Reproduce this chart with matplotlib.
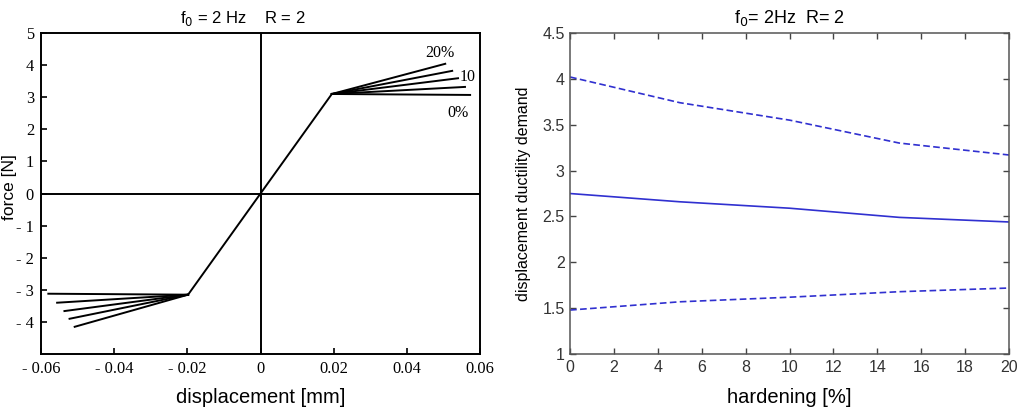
import matplotlib
matplotlib.use('Agg')
import matplotlib.pyplot as plt

# left panel: bilinear force-displacement with hardening branches
yield_disp = [-0.0198, 0.0195]
yield_force = [-3.15, 3.1]
hard_levels = ['0%', '5%', '10%', '15%', '20%']
pos_end_disp = [0.0573, 0.0559, 0.054, 0.0524, 0.0505]
pos_end_force = [3.07, 3.32, 3.59, 3.82, 4.04]
neg_end_disp = [-0.058, -0.0556, -0.0536, -0.0522, -0.0508]
neg_end_force = [-3.12, -3.40, -3.66, -3.90, -4.15]

# right panel: ductility demand vs hardening
hardening = [0, 5, 10, 15, 20]
duct_upper = [4.02, 3.74, 3.55, 3.30, 3.17]
duct_mean = [2.75, 2.66, 2.59, 2.49, 2.44]
duct_lower = [1.48, 1.57, 1.62, 1.68, 1.72]

serif = 'Liberation Serif'
sans = 'Liberation Sans'

fig = plt.figure(figsize=(10.18, 4.07), dpi=100)
ax1 = fig.add_axes([0.0403, 0.130, 0.4312, 0.789])
ax2 = fig.add_axes([0.560, 0.130, 0.4312, 0.789])

# ---- left
ax1.axhline(0, color='black', lw=1.4, zorder=1)
ax1.axvline(0, color='black', lw=1.4, zorder=1)
ax1.plot([yield_disp[0], 0, yield_disp[1]], [yield_force[0], 0, yield_force[1]],
         color='black', lw=1.4)
for i in range(len(hard_levels)):
    ax1.plot([yield_disp[1], pos_end_disp[i]], [yield_force[1], pos_end_force[i]],
             color='black', lw=1.4)
    ax1.plot([yield_disp[0], neg_end_disp[i]], [yield_force[0], neg_end_force[i]],
             color='black', lw=1.4)
ax1.text(pos_end_disp[4] - 0.0015, pos_end_force[4] + 0.1, '20%', family=serif,
         fontsize=11.5, ha='center', va='bottom')
ax1.text(pos_end_disp[2] + 0.0005, pos_end_force[2] + 0.05, '10', family=serif,
         fontsize=11.5, ha='left', va='center')
ax1.text(pos_end_disp[0] - 0.0005, pos_end_force[0] - 0.3, '0%', family=serif,
         fontsize=11.5, ha='right', va='top')

ax1.set_xlim(-0.06, 0.06)
ax1.set_ylim(-5, 5)
xt = [-0.06, -0.04, -0.02, 0, 0.02, 0.04, 0.06]
ax1.set_xticks(xt)
ax1.set_xticklabels(['- 0.06', '- 0.04', '- 0.02', '0', '0.02', '0.04', '0.06'],
                    family=serif, fontsize=11.8)
yt = [-4, -3, -2, -1, 0, 1, 2, 3, 4, 5]
ax1.set_yticks(yt)
ax1.set_yticklabels(['- 4', '- 3', '- 2', '- 1', '0', '1', '2', '3', '4', '5'],
                    family=serif, fontsize=11.8)
ax1.tick_params(direction='in', length=4, width=1.2, pad=5)
for s in ax1.spines.values():
    s.set_linewidth(1.4)
ax1.set_xlabel('displacement [mm]', family=sans, fontsize=14.5)
ax1.xaxis.set_label_coords(0.5, -0.105)
ax1.set_ylabel('force [N]', family=sans, fontsize=12.5)
ax1.yaxis.set_label_coords(-0.054, 0.52)
ax1.set_title('f$_0$ = 2 Hz    R = 2', family=sans, fontsize=12, pad=7, x=0.46)

# ---- right
blue = '#3030d0'
ax2.plot(hardening, duct_upper, color=blue, lw=1.2, ls=(0, (4, 2)))
ax2.plot(hardening, duct_mean, color=blue, lw=1.2)
ax2.plot(hardening, duct_lower, color=blue, lw=1.2, ls=(0, (4, 2)))
ax2.set_xlim(0, 20)
ax2.set_ylim(1, 4.5)
ax2.set_xticks(range(0, 21, 2))
ax2.set_yticks([1, 1.5, 2, 2.5, 3, 3.5, 4, 4.5])
ax2.set_yticklabels(['1', '1.5', '2', '2.5', '3', '3.5', '4', '4.5'])
ax2.tick_params(direction='in', length=4, width=1, colors='#444444',
                top=True, right=True, labelsize=11.5, pad=4)
ax2.tick_params(labelcolor='#333333')
for lab in ax2.get_xticklabels() + ax2.get_yticklabels():
    lab.set_family(sans)
for s in ax2.spines.values():
    s.set_color('#555555')
    s.set_linewidth(1.1)
ax2.set_xlabel('hardening [%]', family=sans, fontsize=14.5)
ax2.xaxis.set_label_coords(0.5, -0.105)
ax2.set_ylabel('displacement ductility demand', family=sans, fontsize=11.5)
ax2.yaxis.set_label_coords(-0.088, 0.5)
ax2.set_title('f$_0$= 2Hz  R= 2', family=sans, fontsize=13, pad=7)

fig.savefig('out.png', dpi=100)
